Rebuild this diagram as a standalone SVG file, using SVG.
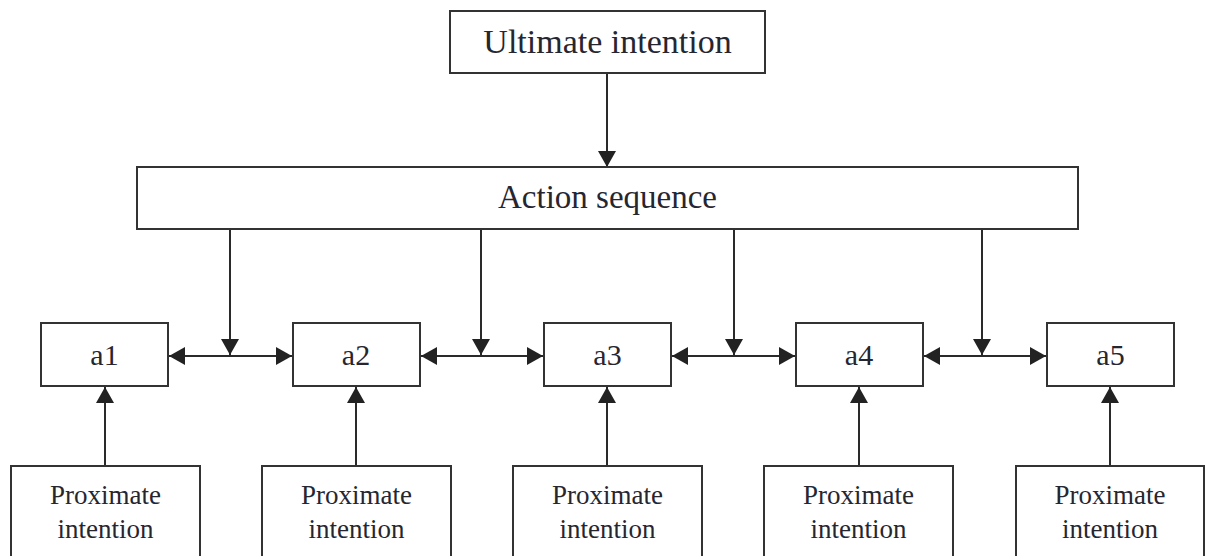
<svg xmlns="http://www.w3.org/2000/svg" width="1205" height="556" viewBox="0 0 1205 556">
<style>
.box{fill:#fff;stroke:#333;stroke-width:2}
.t{font-family:"Liberation Serif","Times New Roman",serif;fill:#262630;text-anchor:middle}
.big{font-size:34px}
.mid{font-size:30px}
.sm{font-size:27px}
.ln{stroke:#2a2a2a;stroke-width:2;fill:none}
.one{marker-end:url(#ah)}
.two{marker-start:url(#ah);marker-end:url(#ah)}
</style>
<defs>
<marker id="ah" markerUnits="userSpaceOnUse" markerWidth="16" markerHeight="18" viewBox="0 0 16 18" refX="16" refY="9" orient="auto-start-reverse">
<path d="M0,0 L16,9 L0,18 z" fill="#222"/>
</marker>
</defs>
<rect width="1205" height="556" fill="#fff"/>
<g id="connectors">
<line class="ln one" x1="607" y1="73" x2="607" y2="167"/>
<line class="ln one" x1="230" y1="229" x2="230" y2="355"/>
<line class="ln one" x1="481" y1="229" x2="481" y2="355"/>
<line class="ln one" x1="734" y1="229" x2="734" y2="355"/>
<line class="ln one" x1="982" y1="229" x2="982" y2="355"/>
<line class="ln two" x1="169" y1="356" x2="292" y2="356"/>
<line class="ln two" x1="421" y1="356" x2="543" y2="356"/>
<line class="ln two" x1="672" y1="356" x2="795" y2="356"/>
<line class="ln two" x1="924" y1="356" x2="1046" y2="356"/>
<line class="ln one" x1="105" y1="466" x2="105" y2="387"/>
<line class="ln one" x1="356" y1="466" x2="356" y2="387"/>
<line class="ln one" x1="607" y1="466" x2="607" y2="387"/>
<line class="ln one" x1="859" y1="466" x2="859" y2="387"/>
<line class="ln one" x1="1110" y1="466" x2="1110" y2="387"/>
</g>
<g id="ultimate">
<rect class="box" x="450" y="11" width="315" height="62"/>
<text class="t big" x="607.5" y="53">Ultimate intention</text>
</g>
<g id="action">
<rect class="box" x="137" y="167" width="941" height="62"/>
<text class="t big" x="607.5" y="208" style="font-size:33px">Action sequence</text>
</g>
<g id="a1"><rect class="box" x="41" y="323" width="127" height="63"/><text class="t mid" x="104.5" y="365">a1</text></g>
<g id="a2"><rect class="box" x="293" y="323" width="127" height="63"/><text class="t mid" x="356" y="365">a2</text></g>
<g id="a3"><rect class="box" x="544" y="323" width="127" height="63"/><text class="t mid" x="607.5" y="365">a3</text></g>
<g id="a4"><rect class="box" x="796" y="323" width="127" height="63"/><text class="t mid" x="859" y="365">a4</text></g>
<g id="a5"><rect class="box" x="1047" y="323" width="127" height="63"/><text class="t mid" x="1110.5" y="365">a5</text></g>
<g id="p1"><rect class="box" x="11" y="466" width="189" height="100"/><text class="t sm" x="105.5" y="504">Proximate</text><text class="t sm" x="105.5" y="538">intention</text></g>
<g id="p2"><rect class="box" x="262" y="466" width="189" height="100"/><text class="t sm" x="356.5" y="504">Proximate</text><text class="t sm" x="356.5" y="538">intention</text></g>
<g id="p3"><rect class="box" x="513" y="466" width="189" height="100"/><text class="t sm" x="607.5" y="504">Proximate</text><text class="t sm" x="607.5" y="538">intention</text></g>
<g id="p4"><rect class="box" x="764" y="466" width="189" height="100"/><text class="t sm" x="858.5" y="504">Proximate</text><text class="t sm" x="858.5" y="538">intention</text></g>
<g id="p5"><rect class="box" x="1016" y="466" width="188" height="100"/><text class="t sm" x="1110" y="504">Proximate</text><text class="t sm" x="1110" y="538">intention</text></g>
</svg>
